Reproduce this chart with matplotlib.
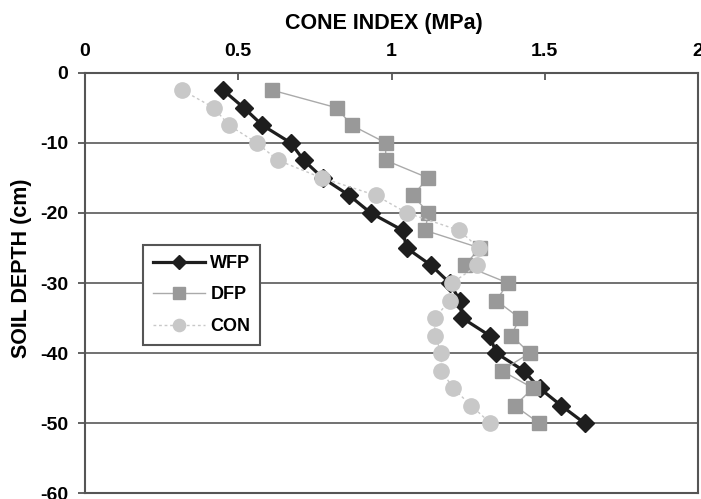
import matplotlib
matplotlib.use("Agg")
import matplotlib.pyplot as plt

plt.rcParams['font.family'] = ['Liberation Sans', 'DejaVu Sans']
plt.rcParams['font.weight'] = 'bold'
plt.rcParams['axes.unicode_minus'] = False

# soil depth (cm), one reading every 2.5 cm
depth = [-2.5, -5, -7.5, -10, -12.5, -15, -17.5, -20, -22.5, -25,
         -27.5, -30, -32.5, -35, -37.5, -40, -42.5, -45, -47.5, -50]

# cone index (MPa) per treatment
wfp = [0.451, 0.518, 0.579, 0.671, 0.714, 0.775, 0.862, 0.932, 1.037, 1.049,
       1.130, 1.190, 1.223, 1.231, 1.320, 1.342, 1.431, 1.483, 1.554, 1.630]
dfp = [0.611, 0.821, 0.870, 0.981, 0.981, 1.119, 1.070, 1.120, 1.110, 1.288,
       1.239, 1.380, 1.342, 1.418, 1.391, 1.451, 1.359, 1.462, 1.402, 1.482]
con = [0.318, 0.420, 0.470, 0.560, 0.630, 0.772, 0.949, 1.050, 1.221, 1.285,
       1.280, 1.198, 1.190, 1.141, 1.141, 1.163, 1.163, 1.201, 1.260, 1.323]

xticks = [0, 0.5, 1, 1.5, 2]
xtick_labels = ['0', '0.5', '1', '1.5', '2']
yticks = [0, -10, -20, -30, -40, -50, -60]

W, H = 701, 499
fig = plt.figure(figsize=(W / 100, H / 100), dpi=100)
left, right, top, bottom = 85, 698, 72.7, 493.3
ax = fig.add_axes([left / W, 1 - bottom / H, (right - left) / W, (bottom - top) / H])

spine_c = '#555555'
for s in ax.spines.values():
    s.set_color(spine_c)
    s.set_linewidth(1.5)

# horizontal grid lines
for y in yticks[1:-1]:
    ax.axhline(y, color='#666666', lw=1.3, zorder=1)

ax.plot(wfp, depth, color='#1e1e1e', lw=2.3, marker='D', ms=9.5,
        mfc='#1e1e1e', mec='#1e1e1e', label='WFP', zorder=3)
ax.plot(dfp, depth, color='#aaaaaa', lw=1.0, marker='s', ms=10.5,
        mfc='#999999', mec='#999999', label='DFP', zorder=4)
ax.plot(con, depth, color='#c8c8c8', lw=1.0, ls=(0, (2, 2)), marker='o', ms=11,
        mfc='#c8c8c8', mec='#c8c8c8', label='CON', zorder=5)

ax.set_xlim(0, 2)
ax.set_ylim(-60, 0)
ax.xaxis.tick_top()
ax.xaxis.set_label_position('top')
ax.set_xticks(xticks)
ax.set_xticklabels(xtick_labels)
ax.set_yticks(yticks)
ax.tick_params(axis='x', direction='in', length=5, width=1.3, color=spine_c,
               labelsize=14, pad=9.5)
ax.tick_params(axis='y', direction='out', length=5, width=1.3, color=spine_c,
               labelsize=14, pad=7)

ax.set_xlabel('CONE INDEX (MPa)', fontsize=15.5, fontweight='bold')
ax.xaxis.label.set_va('center')
ax.xaxis.set_label_coords((384 - left) / (right - left), (bottom - 23.3) / (bottom - top))
ax.set_ylabel('SOIL DEPTH (cm)', fontsize=15.5, fontweight='bold')
ax.yaxis.label.set_va('center')
ax.yaxis.set_label_coords((22 - left) / (right - left), (bottom - 268) / (bottom - top))

leg = ax.legend(loc='upper left',
                bbox_to_anchor=((142.7 - left) / (right - left), (bottom - 245) / (bottom - top)),
                borderaxespad=0, fancybox=False, framealpha=1, edgecolor=spine_c,
                prop={'size': 13, 'weight': 'bold'}, handlelength=2.9,
                handletextpad=0.3, labelspacing=0.8, borderpad=0.55, markerscale=0.8)
leg.get_frame().set_linewidth(1.5)
leg.set_zorder(10)

fig.savefig('out.png', dpi=100)
